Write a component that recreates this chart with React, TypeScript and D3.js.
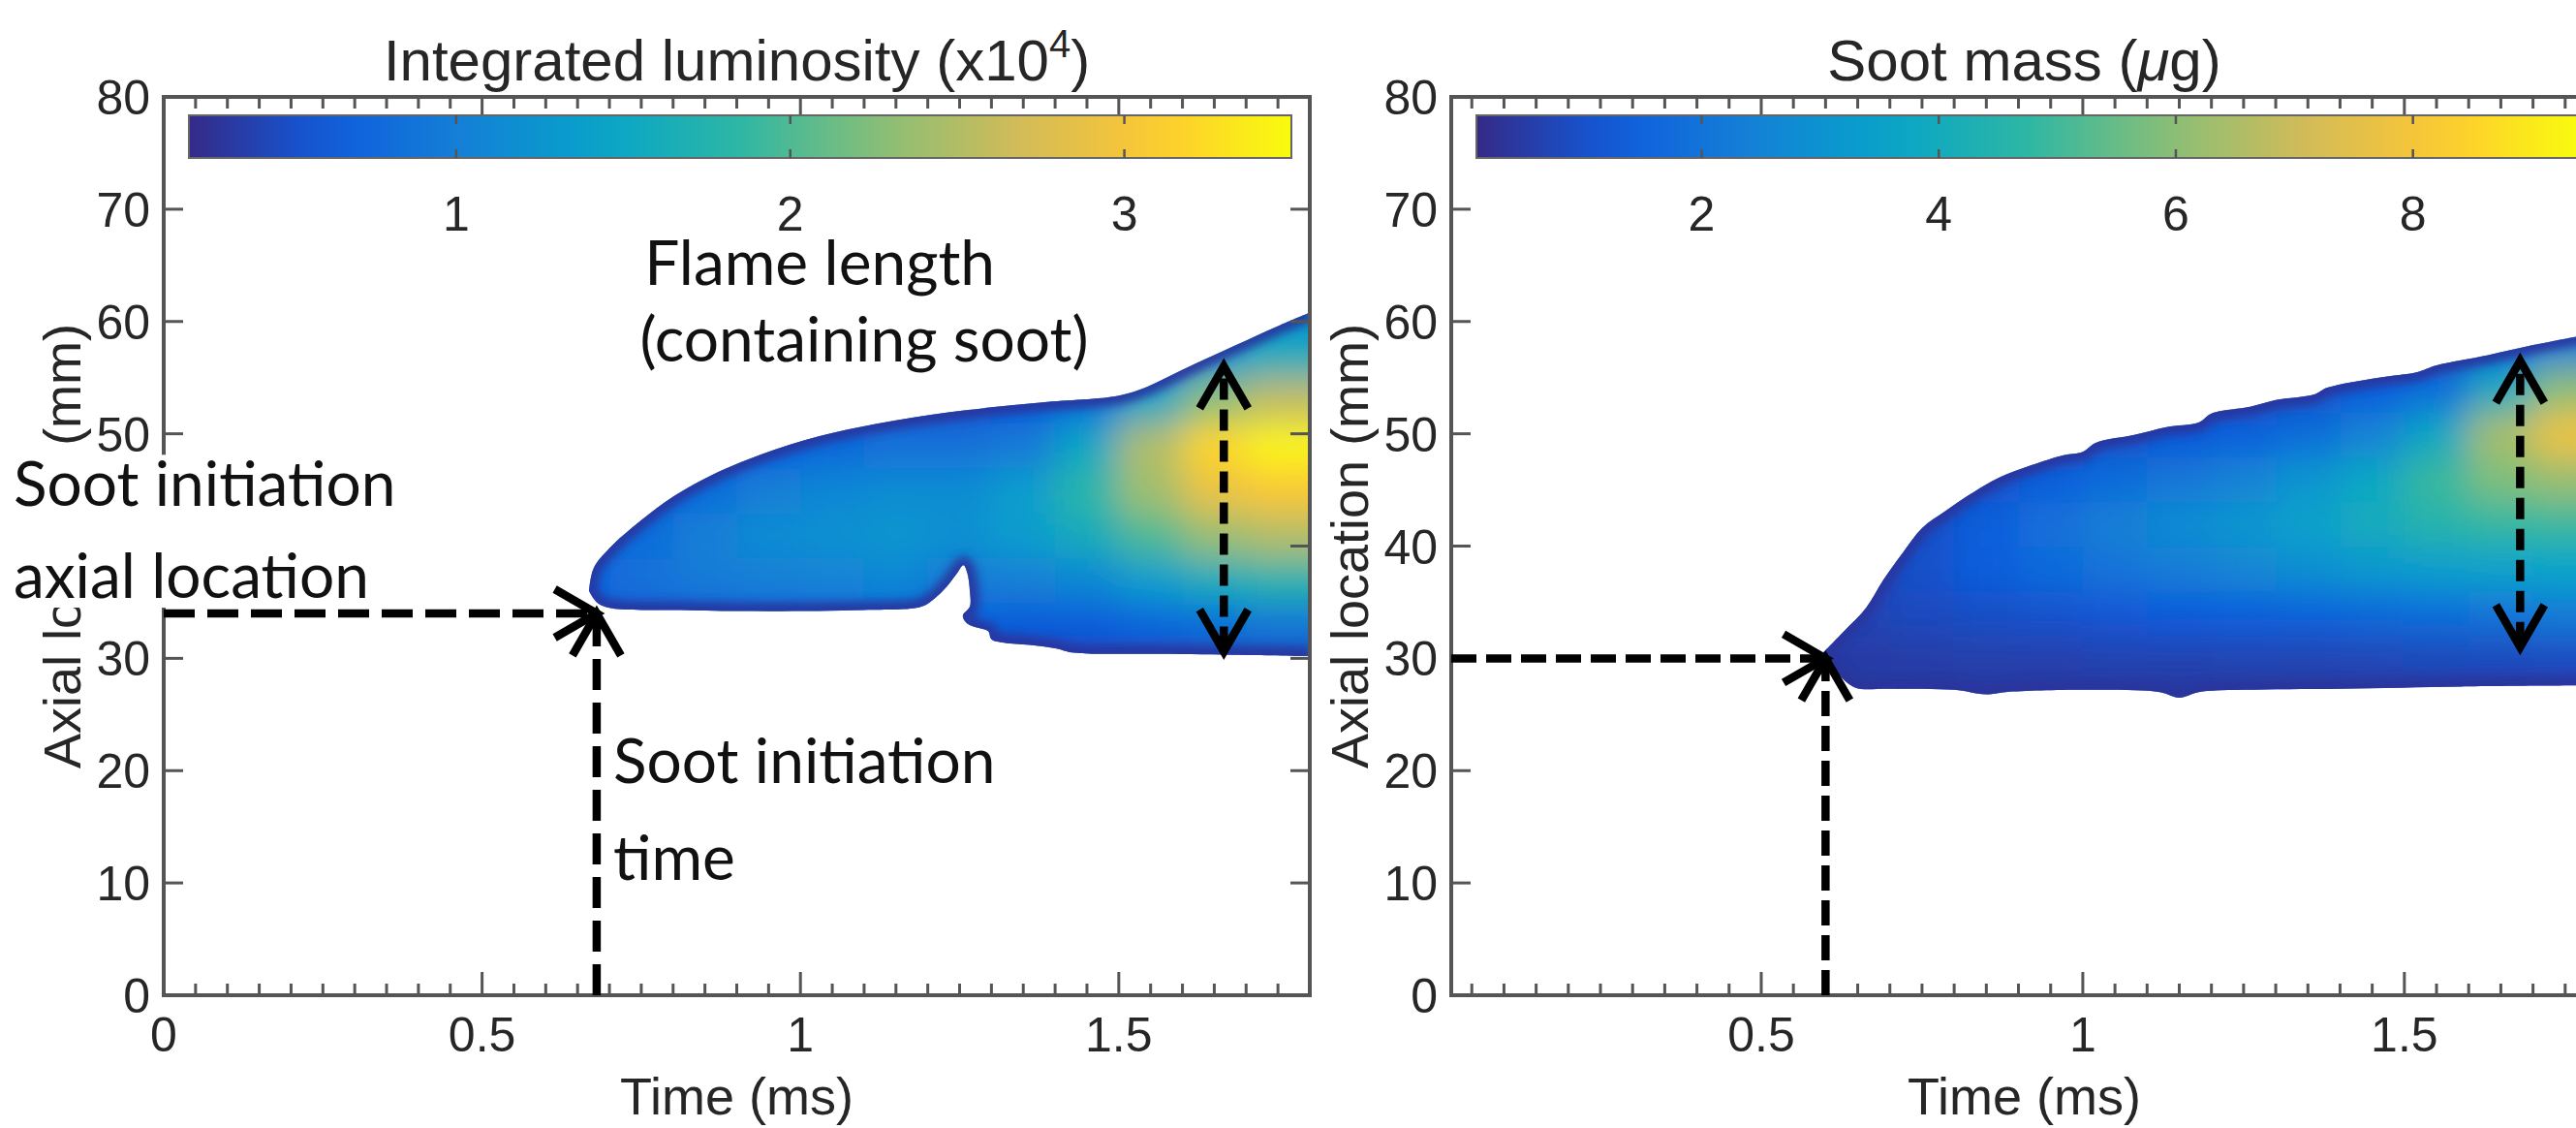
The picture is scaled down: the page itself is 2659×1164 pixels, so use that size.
import React from 'react';
import * as d3 from 'd3';

const WIDTH = 2659;
const HEIGHT = 1164;

// MATLAB-like "parula" colour map anchors
const parulaStops = ['#352a87', '#0f5cdd', '#1481d6', '#06a4ca', '#2eb7a4', '#87bf77', '#d1bb59', '#fec832', '#f9fb0e'];
const parula = d3.piecewise(d3.interpolateRgb, parulaStops);

// Shared axial axis
const axialDomain: [number, number] = [0, 80];
const axialTicks = [0, 10, 20, 30, 40, 50, 60, 70, 80];
const minorTimeStep = 0.05;

// ---- Integrated luminosity panel ----
const lumTimeDomain: [number, number] = [0, 1.8];
const lumTimeTicks = [0, 0.5, 1, 1.5];
const lumBarDomain: [number, number] = [0.2, 3.5];
const lumBarTicks = [1, 2, 3];

// flame envelope, [time (ms), axial (mm)]
const lumUpper: [number, number][] = [
  [0.668, 36.0], [0.675, 38.0], [0.70, 39.8], [0.75, 42.3], [0.80, 44.4], [0.86, 46.3], [0.94, 48.2],
  [1.03, 49.8], [1.15, 51.2], [1.26, 52.1], [1.38, 52.8], [1.50, 53.4], [1.545, 54.2], [1.60, 55.7],
  [1.68, 57.8], [1.75, 59.6], [1.80, 60.8],
];
const lumLower: [number, number][] = [
  [0.668, 36.0], [0.68, 35.0], [0.70, 34.5], [0.80, 34.3], [0.95, 34.2], [1.10, 34.3], [1.19, 34.6],
  [1.21, 35.3], [1.23, 36.4], [1.245, 37.5], [1.256, 38.3], [1.262, 37.6], [1.266, 36.0], [1.266, 34.6],
  [1.255, 33.8], [1.262, 33.1], [1.28, 32.7], [1.295, 32.4], [1.30, 31.7], [1.32, 31.4], [1.36, 31.2],
  [1.40, 30.9], [1.43, 30.5], [1.55, 30.4], [1.70, 30.3], [1.80, 30.2],
];

// luminosity field (x10^4): one column per time, values listed from low to high axial position
const lumGridTimes = [0.65, 0.75, 0.85, 0.95, 1.05, 1.15, 1.25, 1.35, 1.45, 1.55, 1.65, 1.75, 1.85];
const lumGridAxial = [25, 29, 33, 37, 41, 45, 49, 53, 57, 61, 65];
const lumGridValues = [
  [0.4, 0.5, 0.6, 0.7, 0.6, 0.5, 0.4, 0.4, 0.4, 0.4, 0.4],
  [0.4, 0.5, 0.6, 0.85, 0.8, 0.6, 0.45, 0.4, 0.4, 0.4, 0.4],
  [0.4, 0.5, 0.65, 0.95, 1.0, 0.8, 0.55, 0.4, 0.4, 0.4, 0.4],
  [0.4, 0.5, 0.7, 1.0, 1.15, 1.0, 0.65, 0.45, 0.4, 0.4, 0.4],
  [0.4, 0.5, 0.7, 1.05, 1.2, 1.1, 0.75, 0.5, 0.4, 0.4, 0.4],
  [0.4, 0.5, 0.7, 1.1, 1.25, 1.15, 0.85, 0.55, 0.4, 0.4, 0.4],
  [0.4, 0.5, 0.65, 0.95, 1.2, 1.15, 0.85, 0.55, 0.4, 0.4, 0.4],
  [0.4, 0.45, 0.6, 1.0, 1.35, 1.35, 0.95, 0.6, 0.4, 0.4, 0.4],
  [0.4, 0.45, 0.6, 1.1, 1.6, 1.8, 1.5, 0.8, 0.5, 0.4, 0.4],
  [0.4, 0.45, 0.7, 1.35, 2.0, 2.4, 2.5, 1.5, 0.7, 0.5, 0.4],
  [0.4, 0.45, 0.8, 1.6, 2.35, 2.9, 3.2, 2.3, 1.3, 0.8, 0.6],
  [0.4, 0.45, 0.9, 1.75, 2.5, 3.05, 3.45, 2.6, 1.6, 1.1, 0.9],
  [0.4, 0.45, 0.9, 1.75, 2.5, 3.05, 3.45, 2.6, 1.6, 1.1, 0.9],
];

const lumInitiation: [number, number] = [0.68, 34];
const lumFlameLength: [number, number, number] = [1.665, 30.6, 56];

const lumNotes = [
  { text: 'Flame length', t: 0.755, mm: 63.3 },
  { text: '(containing soot)', t: 0.748, mm: 56.4 },
  { text: 'Soot initiation', t: -0.236, mm: 43.6 },
  { text: 'axial location', t: -0.236, mm: 35.4 },
  { text: 'Soot initiation', t: 0.706, mm: 18.9 },
  { text: 'time', t: 0.706, mm: 10.3 },
];

// ---- Soot mass panel ----
const sootTimeDomain: [number, number] = [0.018, 1.8];
const sootTimeTicks = [0.5, 1, 1.5];
const sootBarDomain: [number, number] = [0.1, 9.4];
const sootBarTicks = [2, 4, 6, 8];

const sootUpper: [number, number][] = [
  [0.596, 30.5], [0.63, 32.5], [0.663, 34.5], [0.69, 37.0], [0.72, 39.4], [0.75, 41.6], [0.786, 43.1],
  [0.83, 44.8], [0.87, 46.1], [0.92, 47.2], [0.97, 48.1], [1.00, 48.4], [1.02, 49.2], [1.08, 49.9],
  [1.13, 50.6], [1.18, 51.0], [1.20, 51.8], [1.26, 52.4], [1.30, 53.0], [1.36, 53.5], [1.38, 54.1],
  [1.46, 55.0], [1.52, 55.5], [1.55, 56.1], [1.63, 57.0], [1.70, 57.9], [1.80, 59.0],
];
const sootLower: [number, number][] = [
  [0.596, 30.5], [0.62, 28.6], [0.646, 27.4], [0.70, 27.3], [0.80, 27.2], [0.85, 26.8], [0.88, 27.0],
  [1.00, 27.2], [1.12, 27.0], [1.15, 26.5], [1.18, 27.0], [1.25, 27.2], [1.40, 27.3], [1.60, 27.5], [1.80, 27.6],
];

// soot mass field (ug)
const sootGridTimes = [0.55, 0.65, 0.75, 0.85, 0.95, 1.05, 1.15, 1.25, 1.35, 1.45, 1.55, 1.65, 1.75, 1.85];
const sootGridAxial = [22, 26, 30, 34, 38, 42, 46, 50, 54, 58, 62, 66];
const sootGridValues = [
  [0.4, 0.4, 0.5, 0.5, 0.5, 0.5, 0.5, 0.5, 0.5, 0.5, 0.5, 0.5],
  [0.4, 0.4, 0.5, 0.7, 0.7, 0.6, 0.5, 0.5, 0.5, 0.5, 0.5, 0.5],
  [0.4, 0.4, 0.55, 0.85, 1.0, 0.95, 0.7, 0.5, 0.5, 0.5, 0.5, 0.5],
  [0.4, 0.4, 0.6, 0.95, 1.3, 1.35, 1.0, 0.6, 0.5, 0.5, 0.5, 0.5],
  [0.4, 0.4, 0.6, 1.05, 1.7, 1.85, 1.35, 0.8, 0.5, 0.5, 0.5, 0.5],
  [0.4, 0.4, 0.65, 1.15, 2.0, 2.35, 1.75, 1.0, 0.6, 0.5, 0.5, 0.5],
  [0.4, 0.4, 0.65, 1.25, 2.3, 2.8, 2.1, 1.2, 0.7, 0.5, 0.5, 0.5],
  [0.4, 0.4, 0.7, 1.35, 2.6, 3.1, 2.5, 1.4, 0.8, 0.5, 0.5, 0.5],
  [0.4, 0.4, 0.7, 1.45, 2.9, 3.5, 3.1, 1.8, 1.0, 0.6, 0.5, 0.5],
  [0.4, 0.4, 0.75, 1.6, 3.2, 4.0, 3.8, 2.5, 1.3, 0.7, 0.5, 0.5],
  [0.4, 0.4, 0.8, 1.8, 3.4, 4.5, 4.9, 3.8, 1.8, 0.9, 0.6, 0.5],
  [0.4, 0.4, 0.85, 2.0, 3.5, 4.8, 5.8, 6.4, 4.0, 1.6, 0.8, 0.6],
  [0.4, 0.4, 0.9, 2.2, 3.6, 4.9, 6.2, 7.8, 6.0, 2.4, 1.1, 0.8],
  [0.4, 0.4, 0.9, 2.2, 3.6, 4.9, 6.2, 7.8, 6.0, 2.4, 1.1, 0.8],
];

const sootInitiation: [number, number] = [0.6, 30];
const sootFlameLength: [number, number, number] = [1.68, 31, 56.5];

// ---- layout ----
const PLOT_TOP = 100;
const PLOT_BOTTOM = 1027;
const AXIS_COLOR = '#555';
const TEXT_COLOR = '#262626';
const SANS = "'Liberation Sans', Arial, Helvetica, sans-serif";
const NOTE_FONT = "Lato, 'Open Sans', sans-serif";
const NOTE_SIZE = 64;

type Note = { text: string; t: number; mm: number };

type PanelProps = {
  id: string;
  left: number;
  right: number;
  timeDomain: [number, number];
  timeTicks: number[];
  barDomain: [number, number];
  barTicks: number[];
  title: React.ReactNode;
  upper: [number, number][];
  lower: [number, number][];
  gridTimes: number[];
  gridAxial: number[];
  gridValues: number[][];
  initiation: [number, number];
  flameLength: [number, number, number];
  notes?: Note[];
  dash: string;
};

function arrowHead(x: number, y: number, dx: number, dy: number, len = 50, half = Math.PI / 6) {
  const a = Math.atan2(dy, dx);
  const p1 = [x - len * Math.cos(a - half), y - len * Math.sin(a - half)];
  const p2 = [x - len * Math.cos(a + half), y - len * Math.sin(a + half)];
  return `M${p1[0]},${p1[1]}L${x},${y}L${p2[0]},${p2[1]}`;
}

function Panel(p: PanelProps) {
  const xs = d3.scaleLinear().domain(p.timeDomain).range([p.left, p.right]);
  const ys = d3.scaleLinear().domain(axialDomain).range([PLOT_BOTTOM, PLOT_TOP]);
  const norm = (v: number) => Math.max(0, Math.min(1, (v - p.barDomain[0]) / (p.barDomain[1] - p.barDomain[0])));
  const color = (v: number) => parula(norm(v));

  const edge = d3.line<[number, number]>().x(d => xs(d[0])).y(d => ys(d[1])).curve(d3.curveCatmullRom.alpha(0.5));
  const upperPath = edge(p.upper) || '';
  const lowerPath = edge(p.lower) || '';
  const lowerBack = edge(p.lower.slice().reverse()) || '';
  const envelope = upperPath + 'L' + lowerBack.slice(1) + 'Z';

  const cellT = p.gridTimes[1] - p.gridTimes[0];
  const cellA = p.gridAxial[1] - p.gridAxial[0];

  const minor = d3.range(Math.ceil(p.timeDomain[0] / minorTimeStep) * minorTimeStep, p.timeDomain[1] + 1e-9, minorTimeStep);

  const barX0 = p.left + 26;
  const barX1 = p.right - 19;
  const barY0 = 119;
  const barY1 = 163;
  const bs = d3.scaleLinear().domain(p.barDomain).range([barX0, barX1]);
  const gradStops = d3.range(0, 1.0001, 0.05);

  const cx = (p.left + p.right) / 2;
  const cy = (PLOT_TOP + PLOT_BOTTOM) / 2;

  const [it, ia] = p.initiation;
  const [ft, fa0, fa1] = p.flameLength;

  // callouts that start left of the axes sit on one opaque text box
  const outside = (p.notes || []).filter(n => n.t < p.timeDomain[0]);
  let box: { x: number; y: number; w: number; h: number } | null = null;
  if (outside.length) {
    const x0 = d3.min(outside, n => xs(n.t))! - 8;
    const w = d3.max(outside, n => n.text.length * NOTE_SIZE * 0.43)! + 16;
    const yTop = d3.min(outside, n => ys(n.mm))! - NOTE_SIZE * 0.82;
    const yBot = d3.max(outside, n => ys(n.mm))! + NOTE_SIZE * 0.16;
    box = { x: x0, y: yTop, w, h: yBot - yTop };
  }

  return (
    <g>
      <defs>
        <clipPath id={`${p.id}-axes`}>
          <rect x={p.left} y={PLOT_TOP} width={p.right - p.left} height={PLOT_BOTTOM - PLOT_TOP} />
        </clipPath>
        <clipPath id={`${p.id}-flame`}>
          <path d={envelope} />
        </clipPath>
        <filter id={`${p.id}-smooth`} x="-10%" y="-10%" width="120%" height="120%">
          <feGaussianBlur stdDeviation="18" />
        </filter>
        <filter id={`${p.id}-rim`} x="-10%" y="-10%" width="120%" height="120%">
          <feGaussianBlur stdDeviation="5" />
        </filter>
        <linearGradient id={`${p.id}-bar`} x1="0" x2="1" y1="0" y2="0">
          {gradStops.map(s => (
            <stop key={s} offset={s} stopColor={parula(s)} />
          ))}
        </linearGradient>
      </defs>

      {/* field inside the flame envelope */}
      <g clipPath={`url(#${p.id}-axes)`}>
        <g clipPath={`url(#${p.id}-flame)`}>
          <g filter={`url(#${p.id}-smooth)`}>
            {p.gridTimes.map((t, i) =>
              p.gridAxial.map((a, j) => (
                <rect
                  key={`${i}-${j}`}
                  x={xs(t - cellT / 2)}
                  y={ys(a + cellA / 2)}
                  width={xs(t + cellT / 2) - xs(t - cellT / 2) + 1}
                  height={ys(a - cellA / 2) - ys(a + cellA / 2) + 1}
                  fill={color(p.gridValues[i][j])}
                />
              ))
            )}
          </g>
          <g filter={`url(#${p.id}-rim)`} fill="none" stroke={parula(0.03)} strokeWidth={18} opacity={0.9}>
            <path d={upperPath} />
            <path d={lowerPath} />
          </g>
        </g>
      </g>

      {/* axes box and ticks */}
      <rect x={p.left} y={PLOT_TOP} width={p.right - p.left} height={PLOT_BOTTOM - PLOT_TOP} fill="none" stroke={AXIS_COLOR} strokeWidth={4} />
      <g stroke={AXIS_COLOR} strokeWidth={3}>
        {minor.map(t => {
          const major = p.timeTicks.some(m => Math.abs(m - t) < 1e-6) || Math.abs(t) < 1e-6;
          const len = major ? 24 : 12;
          return (
            <g key={t}>
              <line x1={xs(t)} x2={xs(t)} y1={PLOT_BOTTOM} y2={PLOT_BOTTOM - len} />
              <line x1={xs(t)} x2={xs(t)} y1={PLOT_TOP} y2={PLOT_TOP + len} />
            </g>
          );
        })}
        {axialTicks.map(a => (
          <g key={a}>
            <line x1={p.left} x2={p.left + 20} y1={ys(a)} y2={ys(a)} />
            <line x1={p.right} x2={p.right - 20} y1={ys(a)} y2={ys(a)} />
          </g>
        ))}
      </g>

      {/* tick labels */}
      <g fontFamily={SANS} fontSize={50} fill={TEXT_COLOR}>
        {p.timeTicks.map(t => (
          <text key={t} x={xs(t)} y={1085} textAnchor="middle">{t}</text>
        ))}
        {axialTicks.map(a => (
          <text key={a} x={p.left - 14} y={ys(a) + 18} textAnchor="end">{a}</text>
        ))}
      </g>

      {/* axis labels and title */}
      <g fontFamily={SANS} fill={TEXT_COLOR}>
        <text x={cx} y={1150} fontSize={54} textAnchor="middle">Time (ms)</text>
        <text transform={`translate(${p.left - 86},${cy}) rotate(-90)`} fontSize={54} textAnchor="middle">Axial location (mm)</text>
        <text x={cx} y={83} fontSize={60} textAnchor="middle">{p.title}</text>
      </g>

      {/* colour bar */}
      <rect x={barX0} y={barY0} width={barX1 - barX0} height={barY1 - barY0} fill={`url(#${p.id}-bar)`} stroke="#666" strokeWidth={2} />
      <g stroke="#555" strokeWidth={2.5}>
        {p.barTicks.map(v => (
          <g key={v}>
            <line x1={bs(v)} x2={bs(v)} y1={barY1} y2={barY1 - 9} />
            <line x1={bs(v)} x2={bs(v)} y1={barY0} y2={barY0 + 9} />
          </g>
        ))}
      </g>
      <g fontFamily={SANS} fontSize={50} fill={TEXT_COLOR}>
        {p.barTicks.map(v => (
          <text key={v} x={bs(v)} y={238} textAnchor="middle">{v}</text>
        ))}
      </g>

      {/* text box behind the outside callouts */}
      {box && <rect x={box.x} y={box.y} width={box.w} height={box.h} fill="#fff" />}

      {/* annotation arrows */}
      <g stroke="#000" strokeWidth={8.5} fill="none">
        <line x1={xs(p.timeDomain[0])} y1={ys(ia)} x2={xs(it) - 4} y2={ys(ia)} strokeDasharray={p.dash} />
        <path d={arrowHead(xs(it), ys(ia), 1, 0)} strokeLinejoin="miter" />
        <line x1={xs(it)} y1={ys(0)} x2={xs(it)} y2={ys(ia) + 4} strokeDasharray={p.dash} />
        <path d={arrowHead(xs(it), ys(ia), 0, -1)} strokeLinejoin="miter" />
        <line x1={xs(ft)} y1={ys(fa0) - 4} x2={xs(ft)} y2={ys(fa1) + 4} strokeDasharray="22 10" />
        <path d={arrowHead(xs(ft), ys(fa1), 0, -1)} />
        <path d={arrowHead(xs(ft), ys(fa0), 0, 1)} />
      </g>

      {p.notes && (
        <g fontFamily={NOTE_FONT} fontSize={NOTE_SIZE} fill="#111">
          {p.notes.map((n, i) => (
            <text key={i} x={xs(n.t)} y={ys(n.mm)}>{n.text}</text>
          ))}
        </g>
      )}
    </g>
  );
}

export default function App() {
  return (
    <div>
      <style>{`html,body{margin:0;padding:0;background:#fff;}`}</style>
      <svg width={WIDTH} height={HEIGHT} viewBox={`0 0 ${WIDTH} ${HEIGHT}`} style={{ display: 'block' }}>
        <rect width={WIDTH} height={HEIGHT} fill="#fff" />
        <Panel
          id="lum"
          left={169}
          right={1352}
          timeDomain={lumTimeDomain}
          timeTicks={lumTimeTicks}
          barDomain={lumBarDomain}
          barTicks={lumBarTicks}
          title={<>Integrated luminosity (x10<tspan dy={-24} fontSize={40}>4</tspan><tspan dy={24}>)</tspan></>}
          upper={lumUpper}
          lower={lumLower}
          gridTimes={lumGridTimes}
          gridAxial={lumGridAxial}
          gridValues={lumGridValues}
          initiation={lumInitiation}
          flameLength={lumFlameLength}
          notes={lumNotes}
          dash="32 13"
        />
        <Panel
          id="soot"
          left={1498}
          right={2681}
          timeDomain={sootTimeDomain}
          timeTicks={sootTimeTicks}
          barDomain={sootBarDomain}
          barTicks={sootBarTicks}
          title={<>Soot mass (<tspan fontStyle="italic">μ</tspan>g)</>}
          upper={sootUpper}
          lower={sootLower}
          gridTimes={sootGridTimes}
          gridAxial={sootGridAxial}
          gridValues={sootGridValues}
          initiation={sootInitiation}
          flameLength={sootFlameLength}
          dash="26 10"
        />
      </svg>
    </div>
  );
}
